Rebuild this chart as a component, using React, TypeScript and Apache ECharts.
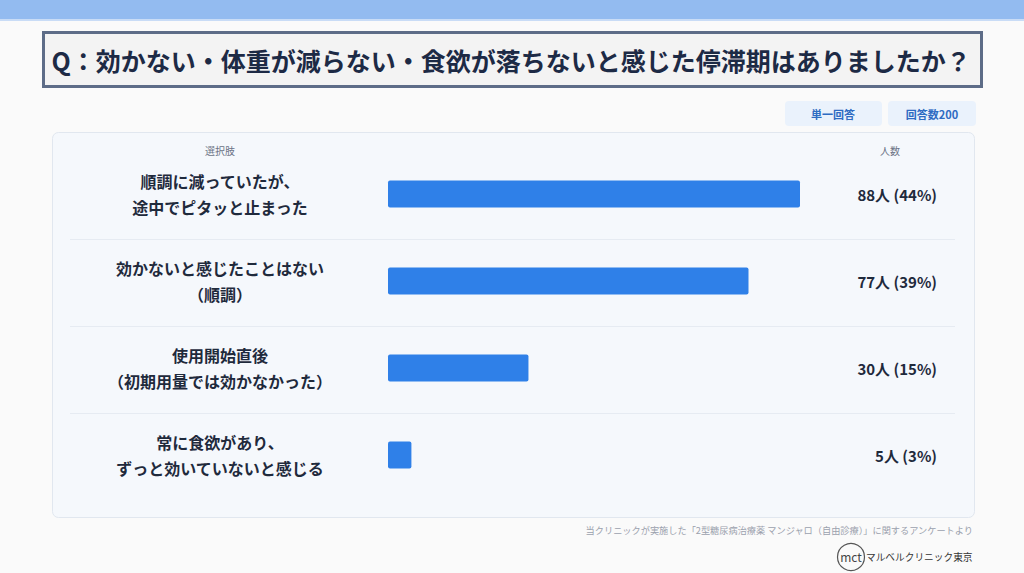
import React, { useEffect, useRef } from "react";
import * as echarts from "echarts";

const title = "Q：効かない・体重が減らない・食欲が落ちないと感じた停滞期はありましたか？";
const categories = [
  "順調に減っていたが、\n途中でピタッと止まった",
  "効かないと感じたことはない\n（順調）",
  "使用開始直後\n（初期用量では効かなかった）",
  "常に食欲があり、\nずっと効いていないと感じる",
];
const counts = [88, 77, 30, 5];
const percents = [44, 39, 15, 3];
const badges = ["単一回答", "回答数200"];
const headerLeft = "選択肢";
const headerRight = "人数";
const footnote = "当クリニックが実施した「2型糖尿病治療薬 マンジャロ（自由診療）」に関するアンケートより";
const logoMark = "mct";
const logoName = "マルベルクリニック東京";

const JP = '"Noto Sans CJK JP", "Noto Sans", sans-serif';

export default function App() {
  const ref = useRef<HTMLDivElement>(null);
  useEffect(() => {
    if (!ref.current) return;
    const chart = echarts.init(ref.current, null, { renderer: "svg" });
    const valueLabels = counts.map((c, i) => `${c}人 (${percents[i]}%)`);
    chart.setOption({
      animation: false,
      backgroundColor: "#fafafa",
      grid: { left: 388, right: 224, top: 150.5, height: 348, containLabel: false },
      xAxis: { type: "value", min: 0, max: 88, show: false },
      yAxis: [
        {
          type: "category",
          data: categories,
          inverse: true,
          axisLine: { show: false },
          axisTick: { show: false },
          splitLine: { show: false },
          axisLabel: {
            margin: 168,
            align: "center",
            fontFamily: JP,
            fontSize: 16,
            fontWeight: "bold",
            lineHeight: 26,
            color: "#1f2a3c",
          },
        },
        {
          type: "category",
          data: valueLabels,
          inverse: true,
          position: "right",
          axisLine: { show: false },
          axisTick: { show: false },
          splitLine: { show: false },
          axisLabel: {
            margin: 137,
            align: "right",
            fontFamily: JP,
            fontSize: 15,
            fontWeight: "bold",
            color: "#1f2a3c",
          },
        },
      ],
      series: [
        {
          type: "bar",
          data: counts,
          barWidth: 27,
          itemStyle: { color: "#2f80e8", borderRadius: 2 },
          z: 5,
        },
      ],
      graphic: [
        { type: "rect", z: -10, shape: { x: 0, y: 0, width: 1024, height: 19 }, style: { fill: "#93bbf0" } },
        { type: "rect", z: -10, shape: { x: 0, y: 19, width: 1024, height: 2 }, style: { fill: "#c9dcf6" } },
        {
          type: "rect",
          z: -5,
          shape: { x: 43.5, y: 32.5, width: 938, height: 54 },
          style: { fill: "#f3f3f3", stroke: "#5d6c87", lineWidth: 3 },
        },
        {
          type: "text",
          z: 10,
          x: 511,
          y: 60,
          style: {
            text: title,
            font: `bold 25px ${JP}`,
            fill: "#1d2a45",
            align: "center",
            verticalAlign: "middle",
          },
        },
        {
          type: "rect",
          z: -5,
          shape: { x: 785, y: 101, width: 97, height: 25, r: 4 },
          style: { fill: "#eaf2fc" },
        },
        {
          type: "rect",
          z: -5,
          shape: { x: 888, y: 101, width: 88, height: 25, r: 4 },
          style: { fill: "#eaf2fc" },
        },
        {
          type: "text",
          z: 10,
          x: 833,
          y: 113.5,
          style: { text: badges[0], font: `bold 11px ${JP}`, fill: "#2e6bc2", align: "center", verticalAlign: "middle" },
        },
        {
          type: "text",
          z: 10,
          x: 932,
          y: 113.5,
          style: { text: badges[1], font: `bold 11px ${JP}`, fill: "#2e6bc2", align: "center", verticalAlign: "middle" },
        },
        {
          type: "rect",
          z: -5,
          shape: { x: 52.5, y: 132.5, width: 922, height: 385, r: 6 },
          style: { fill: "#f5f8fc", stroke: "#e1e7ef", lineWidth: 1 },
        },
        {
          type: "text",
          z: 10,
          x: 220,
          y: 150,
          style: { text: headerLeft, font: `10px ${JP}`, fill: "#6b7385", align: "center", verticalAlign: "middle" },
        },
        {
          type: "text",
          z: 10,
          x: 890,
          y: 150,
          style: { text: headerRight, font: `10px ${JP}`, fill: "#6b7385", align: "center", verticalAlign: "middle" },
        },
        ...[239.5, 326.5, 413.5].map((y) => ({
          type: "line",
          z: -4,
          shape: { x1: 70, y1: y, x2: 955, y2: y },
          style: { stroke: "#e6ebf2", lineWidth: 1 },
        })),
        {
          type: "text",
          z: 10,
          x: 973,
          y: 530,
          style: { text: footnote, font: `9.2px ${JP}`, fill: "#9aa1ad", align: "right", verticalAlign: "middle" },
        },
        {
          type: "circle",
          z: 10,
          shape: { cx: 851, cy: 557, r: 13.5 },
          style: { fill: "none", stroke: "#555555", lineWidth: 1.2 },
        },
        {
          type: "text",
          z: 10,
          x: 851,
          y: 556,
          style: { text: logoMark, font: `12px ${JP}`, fill: "#444444", align: "center", verticalAlign: "middle" },
        },
        {
          type: "text",
          z: 10,
          x: 866,
          y: 557,
          style: { text: logoName, font: `9.7px ${JP}`, fill: "#333333", align: "left", verticalAlign: "middle" },
        },
      ],
    });
    return () => chart.dispose();
  }, []);
  return (
    <div
      ref={ref}
      style={{ position: "absolute", left: 0, top: 0, width: 1024, height: 573 }}
    />
  );
}
